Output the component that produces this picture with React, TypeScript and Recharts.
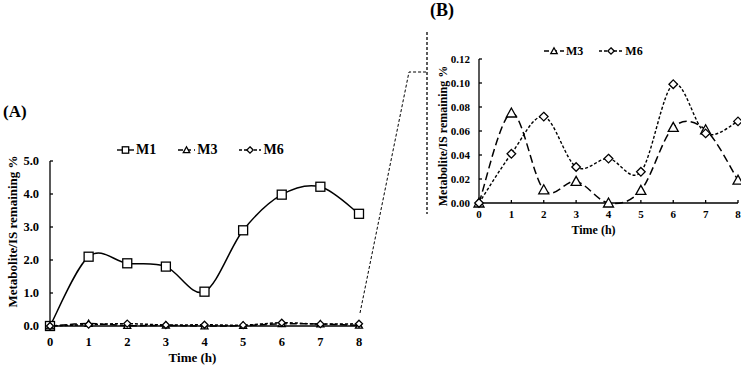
import React from 'react';
import { LineChart, Line, XAxis, YAxis, Legend, Label } from 'recharts';

const FONT = '"Liberation Serif", "Times New Roman", serif';

// sampling times (h)
const hours = [0, 1, 2, 3, 4, 5, 6, 7, 8];
// metabolite / internal standard, % remaining
const m1 = [0, 2.1, 1.9, 1.8, 1.04, 2.9, 3.98, 4.22, 3.4];
const m3 = [0, 0.075, 0.011, 0.018, 0, 0.0105, 0.063, 0.061, 0.019];
const m6 = [0, 0.041, 0.072, 0.03, 0.037, 0.026, 0.099, 0.058, 0.068];

const ticksA = [0, 1, 2, 3, 4, 5];
const ticksB = [0, 0.02, 0.04, 0.06, 0.08, 0.1, 0.12];

const dataA = hours.map((t, i) => ({ t, M1: m1[i], M3: m3[i], M6: m6[i] }));
const dataB = hours.map((t, i) => ({ t, M3: m3[i], M6: m6[i] }));

// Excel-style smoothed line (Catmull-Rom through every point)
const smooth = (context: any) => {
  let pts: number[][] = [];
  return {
    areaStart() {},
    areaEnd() {},
    lineStart() {
      pts = [];
    },
    point(x: number, y: number) {
      pts.push([+x, +y]);
    },
    lineEnd() {
      if (!pts.length) return;
      context.moveTo(pts[0][0], pts[0][1]);
      for (let i = 0; i < pts.length - 1; i++) {
        const p0 = pts[i - 1] || pts[i];
        const p1 = pts[i];
        const p2 = pts[i + 1];
        const p3 = pts[i + 2] || p2;
        context.bezierCurveTo(
          p1[0] + (p2[0] - p0[0]) / 6,
          p1[1] + (p2[1] - p0[1]) / 6,
          p2[0] - (p3[0] - p1[0]) / 6,
          p2[1] - (p3[1] - p1[1]) / 6,
          p2[0],
          p2[1]
        );
      }
    },
  };
};

const Marker = ({ shape, cx, cy, r }: { shape: string; cx: number; cy: number; r: number }) => {
  const common = { fill: '#fff', stroke: '#000', strokeWidth: 1.3 };
  if (shape === 'square') return <rect x={cx - r} y={cy - r} width={2 * r} height={2 * r} {...common} />;
  if (shape === 'triangle')
    return <polygon points={`${cx},${cy - r} ${cx - r},${cy + r * 0.8} ${cx + r},${cy + r * 0.8}`} {...common} />;
  return <polygon points={`${cx},${cy - r} ${cx + r},${cy} ${cx},${cy + r} ${cx - r},${cy}`} {...common} />;
};

const dotOf = (shape: string, r: number) => (p: any) =>
  <Marker key={`${shape}-${p.index}`} shape={shape} cx={p.cx} cy={p.cy} r={r} />;

type LegendItem = { name: string; shape: string; dash?: string; w: number };

const LegendRow = ({ items, fontSize, gap }: { items: LegendItem[]; fontSize: number; gap: number }) => (
  <div style={{ display: 'flex', alignItems: 'center', fontFamily: FONT, fontWeight: 700, fontSize, lineHeight: '16px' }}>
    {items.map((it, i) => (
      <div key={it.name} style={{ display: 'flex', alignItems: 'center', marginLeft: i ? gap : 0 }}>
        <svg width={it.w} height={12}>
          <line x1={0} x2={it.w} y1={6} y2={6} stroke="#000" strokeWidth={1.4} strokeDasharray={it.dash} />
          <Marker shape={it.shape} cx={it.w / 2} cy={6} r={3.2} />
        </svg>
        <span style={{ marginLeft: 2 }}>{it.name}</span>
      </div>
    ))}
  </div>
);

const yTitle = (cx: number, shift: number, size: number) => (props: any) => {
  const vb = props.viewBox;
  const y = vb.y + vb.height / 2 + shift;
  return (
    <text x={cx} y={y} transform={`rotate(-90, ${cx}, ${y})`} textAnchor="middle" dominantBaseline="central"
      fontFamily={FONT} fontWeight={700} fontSize={size} fill="#000">
      Metabolite/IS remaining %
    </text>
  );
};

const xTitle = (shift: number, cy: number, size: number) => (props: any) => {
  const vb = props.viewBox;
  return (
    <text x={vb.x + vb.width / 2 + shift} y={cy} textAnchor="middle" dominantBaseline="central"
      fontFamily={FONT} fontWeight={700} fontSize={size} fill="#000">
      Time (h)
    </text>
  );
};

const tickA = { fontSize: 12.5, fontWeight: 700, fill: '#000', fontFamily: FONT };
const tickB = { fontSize: 11, fontWeight: 700, fill: '#000', fontFamily: FONT };
const axisLine = { stroke: '#000', strokeWidth: 1.3 };

export default function App() {
  return (
    <div style={{ position: 'absolute', left: 0, top: 0, width: 741, height: 365, background: '#fff' }}>
      <div style={{ position: 'absolute', left: 0, top: 0 }}>
        <LineChart width={380} height={365} data={dataA} margin={{ top: 145, right: 21, bottom: 0, left: 0 }}>
          <XAxis dataKey="t" type="number" domain={[0, 8]} ticks={hours} height={39} axisLine={axisLine}
            tickLine={axisLine} tickSize={-3} tickMargin={14} tick={tickA} interval={0}>
            <Label content={xTitle(-12, 357, 13)} />
          </XAxis>
          <YAxis type="number" domain={[0, 5]} ticks={ticksA} width={50} axisLine={axisLine} tickLine={axisLine}
            tickSize={-3} tickMargin={14} tick={tickA} tickFormatter={(v: number) => v.toFixed(1)} interval={0}>
            <Label content={yTitle(12, -12, 13)} />
          </YAxis>
          <Legend verticalAlign="top" wrapperStyle={{ top: 142, left: 117, width: 220 }}
            content={() => (
              <LegendRow fontSize={14} gap={22} items={[
                { name: 'M1', shape: 'square', w: 17 },
                { name: 'M3', shape: 'triangle', dash: '5 3', w: 17 },
                { name: 'M6', shape: 'diamond', dash: '3 2', w: 22 },
              ]} />
            )} />
          <Line dataKey="M1" type={smooth as any} stroke="#000" strokeWidth={1.5} dot={dotOf('square', 4.5)}
            activeDot={false} isAnimationActive={false} />
          <Line dataKey="M3" type={smooth as any} stroke="#000" strokeWidth={1.5} strokeDasharray="7 3"
            dot={dotOf('triangle', 3.5)} activeDot={false} isAnimationActive={false} />
          <Line dataKey="M6" type={smooth as any} stroke="#000" strokeWidth={1.5} strokeDasharray="3 2"
            dot={dotOf('diamond', 3.5)} activeDot={false} isAnimationActive={false} />
        </LineChart>
      </div>

      <div style={{ position: 'absolute', left: 380, top: 0 }}>
        <LineChart width={361} height={245} data={dataB} margin={{ top: 43, right: 3, bottom: 0, left: 0 }}>
          <XAxis dataKey="t" type="number" domain={[0, 8]} ticks={hours} height={42} axisLine={axisLine}
            tickLine={axisLine} tickSize={-3} tickMargin={10} tick={tickB} interval={0}>
            <Label content={xTitle(-15, 230, 12)} />
          </XAxis>
          <YAxis type="number" domain={[0, 0.12]} ticks={ticksB} width={99} axisLine={axisLine} tickLine={axisLine}
            tickSize={-3} tickMargin={12} tick={tickB} tickFormatter={(v: number) => v.toFixed(2)} interval={0}>
            <Label content={yTitle(63, 5, 12)} />
          </YAxis>
          <Legend verticalAlign="top" wrapperStyle={{ top: 43, left: 164, width: 160 }}
            content={() => (
              <LegendRow fontSize={12} gap={16} items={[
                { name: 'M3', shape: 'triangle', dash: '5 3', w: 20 },
                { name: 'M6', shape: 'diamond', dash: '3 2', w: 24 },
              ]} />
            )} />
          <Line dataKey="M3" type={smooth as any} stroke="#000" strokeWidth={1.5} strokeDasharray="8 4"
            dot={dotOf('triangle', 5)} activeDot={false} isAnimationActive={false} />
          <Line dataKey="M6" type={smooth as any} stroke="#000" strokeWidth={1.4} strokeDasharray="3 2"
            dot={dotOf('diamond', 4.3)} activeDot={false} isAnimationActive={false} />
        </LineChart>
      </div>

      {/* panel letters, divider and zoom connector */}
      <svg width={741} height={365} style={{ position: 'absolute', left: 0, top: 0, pointerEvents: 'none' }}>
        <text x={3} y={117} fontFamily={FONT} fontWeight={700} fontSize={17} fill="#000">(A)</text>
        <text x={430} y={16} fontFamily={FONT} fontWeight={700} fontSize={18} fill="#000">(B)</text>
        <line x1={427} x2={427} y1={32} y2={214} stroke="#333" strokeWidth={1.6} strokeDasharray="3 2" />
        <polyline points="360,313 409,72 427,72" fill="none" stroke="#000" strokeWidth={1} strokeDasharray="3 2" />
      </svg>
    </div>
  );
}
